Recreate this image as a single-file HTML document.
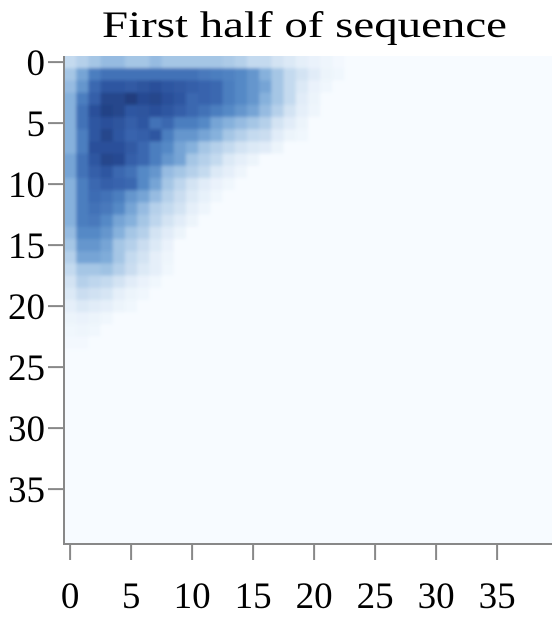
<!DOCTYPE html>
<html><head><meta charset="utf-8"><style>
html,body{margin:0;padding:0;background:#fff;}
svg{display:block;font-family:"Liberation Serif",serif;}
</style></head><body>
<svg id="chart" width="557" height="622">
<defs><filter id="soft" x="-2%" y="-2%" width="104%" height="104%"><feGaussianBlur stdDeviation="1.6"/></filter>
<clipPath id="plotclip"><rect x="64" y="56" width="488" height="488"/></clipPath></defs>
<text x="102" y="37" font-size="37" textLength="405" lengthAdjust="spacingAndGlyphs">First half of sequence</text>
<rect x="64" y="56" width="488" height="488" fill="#f7fbff"/>
<g clip-path="url(#plotclip)"><g id="cells" filter="url(#soft)"></g></g>
<g id="axes"></g>
</svg>
<script>
const xTicks=[0,5,10,15,20,25,30,35];
const yTicks=[0,5,10,15,20,25,30,35];
const nCols=40, nRows=40;
const rows=[
[0.2,0.25,0.3,0.35,0.35,0.3,0.3,0.35,0.3,0.3,0.3,0.3,0.3,0.28,0.25,0.2,0.2,0.15,0.12,0.08,0.06,0.04,0.02],
[0.3,0.45,0.6,0.65,0.65,0.65,0.65,0.65,0.65,0.65,0.65,0.62,0.6,0.58,0.55,0.5,0.4,0.3,0.2,0.15,0.1,0.05,0.03],
[0.35,0.5,0.7,0.8,0.8,0.78,0.82,0.85,0.8,0.78,0.75,0.72,0.7,0.6,0.55,0.5,0.45,0.3,0.2,0.12,0.06,0.03],
[0.4,0.6,0.75,0.9,0.9,0.95,0.88,0.9,0.85,0.8,0.7,0.72,0.7,0.6,0.55,0.5,0.4,0.3,0.2,0.1,0.05],
[0.4,0.65,0.85,0.92,0.9,0.8,0.82,0.85,0.8,0.75,0.7,0.65,0.6,0.55,0.5,0.45,0.35,0.25,0.15,0.08,0.04],
[0.4,0.65,0.8,0.85,0.82,0.75,0.8,0.65,0.7,0.6,0.6,0.55,0.45,0.4,0.35,0.3,0.25,0.15,0.1,0.05],
[0.4,0.6,0.8,0.9,0.8,0.72,0.75,0.8,0.6,0.5,0.5,0.45,0.4,0.3,0.25,0.2,0.18,0.1,0.05,0.03],
[0.4,0.6,0.85,0.85,0.85,0.78,0.7,0.6,0.55,0.45,0.4,0.3,0.25,0.2,0.15,0.12,0.1,0.05],
[0.45,0.65,0.8,0.9,0.88,0.75,0.7,0.6,0.5,0.45,0.3,0.25,0.2,0.12,0.08,0.05],
[0.45,0.65,0.75,0.8,0.7,0.65,0.55,0.5,0.35,0.3,0.25,0.2,0.12,0.08,0.04],
[0.4,0.6,0.7,0.75,0.72,0.7,0.55,0.45,0.3,0.22,0.15,0.1,0.06,0.03],
[0.4,0.6,0.68,0.65,0.6,0.5,0.45,0.35,0.25,0.18,0.12,0.07,0.03],
[0.4,0.6,0.65,0.62,0.55,0.45,0.35,0.25,0.2,0.15,0.08,0.04],
[0.4,0.6,0.62,0.55,0.45,0.4,0.3,0.22,0.15,0.1,0.05],
[0.35,0.55,0.55,0.5,0.4,0.3,0.25,0.15,0.1,0.05],
[0.3,0.5,0.5,0.45,0.3,0.25,0.18,0.12,0.06],
[0.25,0.45,0.45,0.42,0.3,0.2,0.15,0.08,0.04],
[0.2,0.3,0.3,0.32,0.25,0.18,0.12,0.08,0.03],
[0.15,0.25,0.22,0.2,0.15,0.1,0.06,0.03],
[0.12,0.18,0.16,0.14,0.08,0.05,0.03],
[0.08,0.12,0.1,0.08,0.05,0.03],
[0.05,0.06,0.05,0.03],
[0.03,0.04,0.03],
[0.02,0.02]
];
const X0=64,Y0=56,W=488,H=488;
const cw=W/nCols, ch=H/nRows;
function xs(c){return X0+c*cw;}
function ys(r){return Y0+r*ch;}
const stopPos=[0,0.12,0.25,0.4,0.55,0.7,0.85,1];
const stopCol=["#f7fbff","#dce9f6","#b5d0ea","#86b1dc","#5589c6","#3a67b0","#2a4f9a","#1c3570"];
function hex(h){return [1,3,5].map(i=>parseInt(h.substr(i,2),16));}
function color(v){v=Math.max(0,Math.min(1,v));let i=0;while(i<stopPos.length-2&&v>stopPos[i+1])i++;const f=(v-stopPos[i])/(stopPos[i+1]-stopPos[i]);const a=hex(stopCol[i]),b=hex(stopCol[i+1]);return "rgb("+a.map((x,k)=>Math.round(x+(b[k]-x)*f)).join(",")+")";}
const NS="http://www.w3.org/2000/svg";
const cells=document.getElementById("cells");
for(let r=-1;r<=nRows;r++){for(let c=-1;c<=nCols;c++){
 const rr=Math.max(0,Math.min(nRows-1,r)), cc=Math.max(0,Math.min(nCols-1,c));
 const v=(rows[rr]&&rows[rr][cc])||0;
 const el=document.createElementNS(NS,"rect");
 
 
 el.setAttribute("x",xs(c));el.setAttribute("y",ys(r));
 el.setAttribute("width",cw+0.6);el.setAttribute("height",ch+0.6);
 el.setAttribute("fill",color(v));
 cells.appendChild(el);
}}
const axes=document.getElementById("axes");
function add(tag,attrs,txt){const e=document.createElementNS(NS,tag);for(const k in attrs)e.setAttribute(k,attrs[k]);if(txt!==undefined)e.textContent=txt;axes.appendChild(e);return e;}
let el=add("line",{x1:X0,y1:Y0,x2:X0,y2:Y0+H+1,stroke:"#888","stroke-width":2});


el=add("line",{x1:X0-1,y1:Y0+H,x2:X0+W,y2:Y0+H,stroke:"#888","stroke-width":2});


xTicks.forEach(t=>{const x=xs(t)+cw/2;
 let a=add("line",{x1:x,y1:545,x2:x,y2:560,stroke:"#888","stroke-width":2});
 
 
 let b=add("text",{x:x,y:608,"font-size":37,"text-anchor":"middle"},String(t));
 
 
});
yTicks.forEach(t=>{const y=ys(t)+ch/2;
 let a=add("line",{x1:48,y1:y,x2:63,y2:y,stroke:"#888","stroke-width":2});
 
 
 let b=add("text",{x:45,y:y+13,"font-size":37,"text-anchor":"end"},String(t));
 
 
});
</script>
</body></html>
